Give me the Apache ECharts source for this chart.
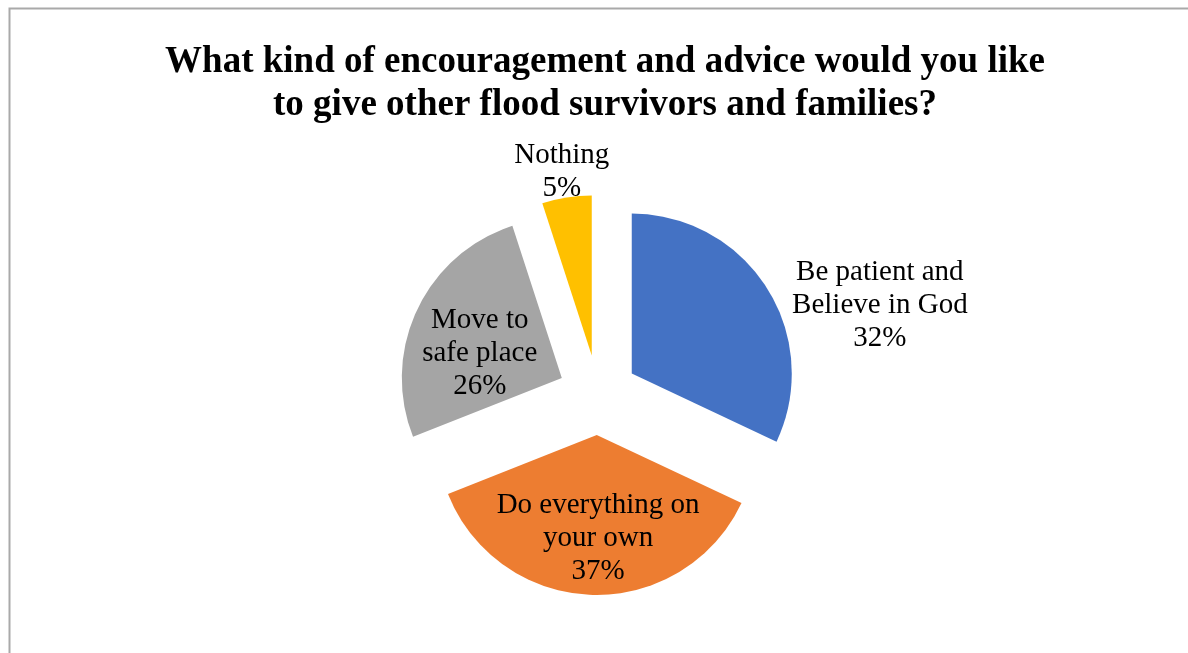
<!DOCTYPE html>
<html>
<head>
<meta charset="utf-8">
<script src="https://cdn.jsdelivr.net/npm/echarts@6/dist/echarts.min.js"></script>
<style>
  html, body { margin: 0; padding: 0; background: #ffffff; }
  #chart { width: 1188px; height: 653px; }
</style>
</head>
<body>
<div id="chart"></div>
<script>
// Survey answers and their shares (percent)
const categories = [
  'Be patient and\nBelieve in God',
  'Do everything on\nyour own',
  'Move to\nsafe place',
  'Nothing'
];
const shares = [32, 37, 26, 5];
const sliceColors = ['#4472C4', '#ED7D31', '#A5A5A5', '#FFC000'];

// Label nudges (px) from each exploded slice's inside anchor
const labelNudge = [
  [178, -24],
  [4, 20],
  [-7, 11],
  [-17, -102]
];

const serif = "'Liberation Serif', 'Times New Roman', serif";

const chart = echarts.init(document.getElementById('chart'), null, { renderer: 'canvas' });

chart.setOption({
  animation: false,
  backgroundColor: '#ffffff',
  title: {
    text: 'What kind of encouragement and advice would you like\nto give other flood survivors and families?',
    left: 600,
    top: 36,
    textAlign: 'center',
    textStyle: {
      fontFamily: serif,
      fontWeight: 'bold',
      fontSize: 37,
      lineHeight: 43,
      color: '#000000'
    }
  },
  graphic: [{
    type: 'rect',
    left: 7,
    top: 6,
    shape: { width: 1200, height: 700 },
    style: { fill: 'none', stroke: '#a9a9a9', lineWidth: 2 },
    silent: true
  }],
  series: [{
    type: 'pie',
    center: [598, 395],
    radius: [0, 160],
    startAngle: 90,
    clockwise: true,
    selectedMode: 'multiple',
    selectedOffset: 40,
    emphasis: { disabled: true },
    select: { itemStyle: {} },
    itemStyle: { borderWidth: 0 },
    label: {
      show: true,
      position: 'inside',
      formatter: '{b}\n{c}%',
      fontFamily: serif,
      fontSize: 29,
      lineHeight: 33,
      color: '#000000',
      align: 'center'
    },
    labelLine: { show: false },
    labelLayout: function (params) {
      const n = labelNudge[params.dataIndex];
      return { dx: n[0], dy: n[1] };
    },
    data: categories.map(function (name, i) {
      return {
        name: name,
        value: shares[i],
        selected: true,
        itemStyle: { color: sliceColors[i] }
      };
    })
  }]
});
</script>
</body>
</html>
